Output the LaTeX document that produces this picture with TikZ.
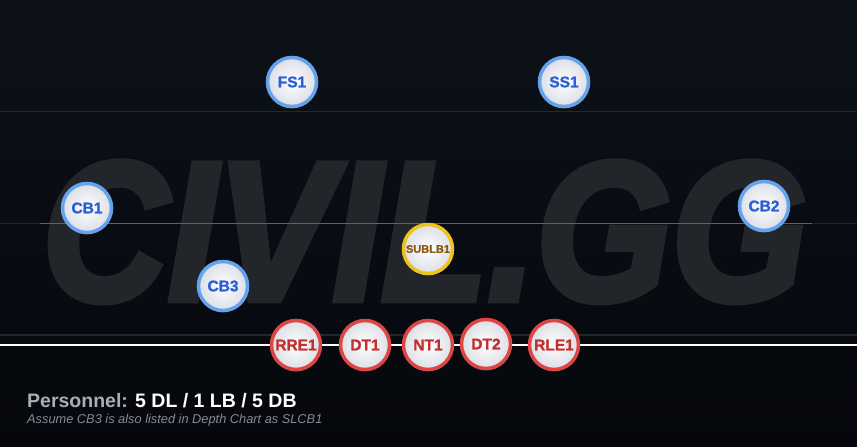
\documentclass[tikz,border=0pt]{standalone}
\usepackage{fontspec}
\setmainfont{Liberation Sans}
\newfontfamily\wmfont[BoldItalicFeatures={FakeBold=3.5}]{Liberation Sans}
\newfontfamily\heavyfont[BoldFeatures={FakeBold=1.2}]{Liberation Sans}
\usetikzlibrary{shadows}
\definecolor{bgtop}{HTML}{0D1219}
\definecolor{bgbot}{HTML}{05070C}
\definecolor{wm}{HTML}{222529}
\definecolor{faint}{HTML}{22272E}
\definecolor{midline}{HTML}{5E6166}
\definecolor{ballout}{HTML}{DCDFE6}
\definecolor{dbline}{HTML}{66A3EE}
\definecolor{dbtext}{HTML}{2C60D2}
\definecolor{dlline}{HTML}{DE4545}
\definecolor{dltext}{HTML}{C52E2E}
\definecolor{lbline}{HTML}{EEC31C}
\definecolor{lbtext}{HTML}{8A5A12}
\definecolor{persgrey}{HTML}{A9ADB4}
\definecolor{notegrey}{HTML}{878B93}
\tikzset{
  player/.style={circle, minimum size=49pt, inner sep=0pt, line width=3.5pt,
    inner color=white, outer color=ballout,
    drop shadow={opacity=0.45, shadow xshift=0pt, shadow yshift=-2pt},
    font=\heavyfont\fontsize{15.5}{16}\selectfont\bfseries},
  db/.style={player, draw=dbline, text=dbtext},
  dl/.style={player, draw=dlline, text=dltext},
  lb/.style={player, draw=lbline, text=lbtext, font=\heavyfont\fontsize{11}{12}\selectfont\bfseries},
  caption/.style={anchor=base west, inner sep=0pt}
}
\begin{document}
\begin{tikzpicture}[x=1pt,y=-1pt]
\useasboundingbox (0,0) rectangle (857,447);
\shade[top color=bgtop, bottom color=bgbot] (0,0) rectangle (857,447);
% watermark
\node[anchor=base west, inner sep=0pt, text=wm,
  font=\wmfont\fontsize{198}{198}\selectfont\bfseries\itshape] (wmark) at (42,300)
  {\scalebox{0.88}[1]{CIVIL.GG}};
% field lines
\draw[faint, line width=1pt] (0,111) -- (857,111);
\draw[faint, line width=1pt] (0,223) -- (857,223);
\draw[midline, line width=1pt] (40,223) -- (812,223);
\draw[faint, line width=1.5pt] (0,335) -- (857,335);
\draw[white, line width=2.5pt] (0,345) -- (857,345);
% players
\node[db] (FS1) at (292,82) {FS1};
\node[db] (SS1) at (564,82) {SS1};
\node[db] (CB1) at (87,208) {CB1};
\node[db] (CB2) at (764,206) {CB2};
\node[db] (CB3) at (223,286) {CB3};
\node[lb] (SUBLB1) at (428,249) {SUBLB1};
\node[dl] (RRE1) at (296,345) {RRE1};
\node[dl] (DT1) at (365,345) {DT1};
\node[dl] (NT1) at (428,345) {NT1};
\node[dl] (DT2) at (486,344) {DT2};
\node[dl] (RLE1) at (554,345) {RLE1};
% captions
\node[caption, text=persgrey, font=\fontsize{19.5}{20}\selectfont\bfseries] (pers) at (27,407)
  {Personnel: \textcolor{white}{5 DL / 1 LB / 5 DB}};
\node[caption, text=notegrey, font=\fontsize{12.8}{14}\selectfont\itshape] (note) at (27,423)
  {Assume CB3 is also listed in Depth Chart as SLCB1};
\end{tikzpicture}
\end{document}
